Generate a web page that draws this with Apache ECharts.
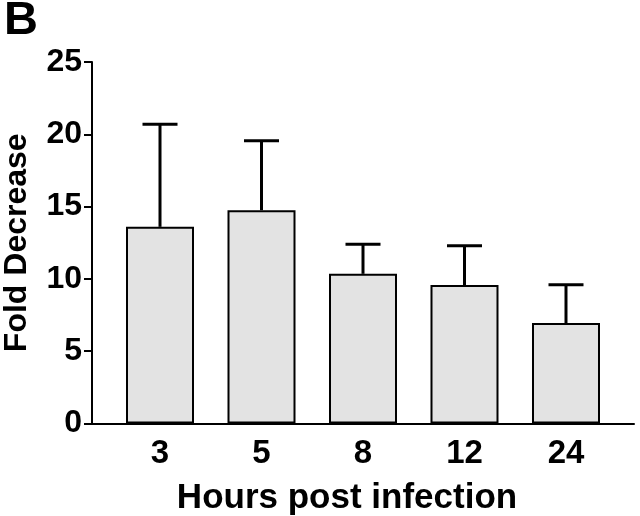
<!DOCTYPE html>
<html>
<head>
<meta charset="utf-8">
<script src="https://cdn.jsdelivr.net/npm/echarts@6/dist/echarts.min.js"></script>
<style>
  html, body { margin: 0; padding: 0; background: #fff; }
  #main { width: 640px; height: 516px; }
</style>
</head>
<body>
<div id="main"></div>
<script>
var hours = ['3', '5', '8', '12', '24'];
var foldDecrease = [13.6, 14.75, 10.35, 9.57, 6.95];
var errorUp = [7.1, 4.8, 2.05, 2.72, 2.64];
var yTicks = [0, 5, 10, 15, 20, 25];

var font = 'Liberation Sans, Arial, Helvetica, sans-serif';

var chartDom = document.getElementById('main');
var myChart = echarts.init(chartDom);
var option;

var barData = foldDecrease.map(function (v, i) { return [i, v]; });
var errData = foldDecrease.map(function (v, i) { return [i, v, v + errorUp[i]]; });

option = {
  backgroundColor: '#fff',
  animation: false,
  title: {
    text: 'B',
    left: -1,
    top: -7,
    textStyle: { fontFamily: font, fontSize: 47, fontWeight: 'bold', color: '#000' }
  },
  grid: {
    left: 92,
    right: 6,
    top: 62,
    bottom: 92.5,
    containLabel: false,
    outerBoundsMode: 'none'
  },
  xAxis: {
    type: 'value',
    min: -0.67,
    max: 4.67,
    name: 'Hours post infection',
    nameLocation: 'middle',
    nameGap: 57,
    nameTextStyle: {
      fontFamily: font, fontSize: 35, fontWeight: 'bold', color: '#000',
      padding: [0, 32, 0, 0]
    },
    axisLine: { show: true, onZero: false, lineStyle: { color: '#000', width: 2 } },
    axisTick: { show: false },
    splitLine: { show: false },
    axisLabel: {
      customValues: [0, 1, 2, 3, 4],
      formatter: function (v) { return hours[Math.round(v)]; },
      fontFamily: font, fontSize: 33, fontWeight: 'bold', color: '#000',
      margin: 14
    }
  },
  yAxis: {
    type: 'value',
    min: 0,
    max: 25,
    interval: 5,
    name: 'Fold Decrease',
    nameLocation: 'middle',
    nameGap: 59,
    nameTextStyle: { fontFamily: font, fontSize: 32, fontWeight: 'bold', color: '#000' },
    axisLine: { show: true, onZero: false, lineStyle: { color: '#000', width: 2 } },
    axisTick: { show: true, length: 8, lineStyle: { color: '#000', width: 2 } },
    splitLine: { show: false },
    axisLabel: {
      customValues: yTicks,
      fontFamily: font, fontSize: 32, fontWeight: 'bold', color: '#000',
      margin: 10
    }
  },
  series: [
    {
      type: 'bar',
      data: barData,
      barWidth: 68,
      itemStyle: { color: '#e3e3e3', borderColor: '#000', borderWidth: 2 },
      z: 2
    },
    {
      type: 'custom',
      data: errData,
      z: 3,
      renderItem: function (params, api) {
        var base = api.coord([api.value(0), api.value(1)]);
        var top = api.coord([api.value(0), api.value(2)]);
        var half = 17.5;
        var style = { stroke: '#000', lineWidth: 3, fill: null };
        return {
          type: 'group',
          children: [
            { type: 'line', shape: { x1: base[0], y1: base[1], x2: top[0], y2: top[1] }, style: style },
            { type: 'line', shape: { x1: top[0] - half, y1: top[1], x2: top[0] + half, y2: top[1] }, style: style }
          ]
        };
      }
    }
  ]
};

option && myChart.setOption(option);
</script>
</body>
</html>
